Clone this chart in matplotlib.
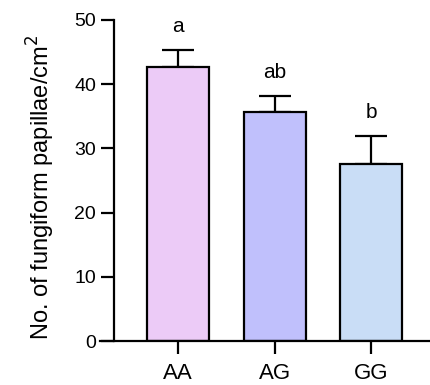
import matplotlib
matplotlib.use('Agg')
from matplotlib import pyplot as plt

# Data
groups = ['AA', 'AG', 'GG']
means = [42.7, 35.6, 27.6]
errors = [2.7, 2.6, 4.4]
letters = ['a', 'ab', 'b']
colors = ['#ECCBF7', '#C0C0FC', '#C9DDF6']


def main():
    plt.rcParams['font.family'] = ['Liberation Sans', 'DejaVu Sans']

    fig = plt.figure(figsize=(4.3, 3.85), dpi=100)
    ax = fig.add_axes([100 / 430, 44 / 385, 330 / 430, 321 / 385])

    x = list(range(len(groups)))
    ax.bar(x, means, width=0.64, color=colors, edgecolor='black', linewidth=1.6, zorder=2)
    ax.errorbar(x, means, yerr=[[0] * len(errors), errors], fmt='none', ecolor='black',
                elinewidth=1.6, capsize=11.5, capthick=1.6, zorder=1)

    for xi, m, e, lab in zip(x, means, errors, letters):
        ax.text(xi, m + e + 2.7, lab, ha='center', va='baseline', fontsize=15)

    ax.set_xlim(-0.81, 2.61)
    ax.set_ylim(0, 50)
    ax.set_yticks([0, 10, 20, 30, 40, 50])
    ax.set_xticks(x)
    ax.set_xticklabels(groups)

    ax.spines['top'].set_visible(False)
    ax.spines['right'].set_visible(False)
    ax.spines['left'].set_position(('data', -0.67))
    for s in ['left', 'bottom']:
        ax.spines[s].set_linewidth(1.6)

    ax.tick_params(axis='y', length=9.5, width=1.6, labelsize=14, pad=3)
    ax.tick_params(axis='x', length=9.5, width=1.6, labelsize=16, pad=6)

    ax.set_ylabel('No. of fungiform papillae/cm$^2$', fontsize=17)
    ax.yaxis.set_label_coords(-0.13, 0.48)

    fig.savefig('out.png', dpi=100)


if __name__ == '__main__':
    main()
